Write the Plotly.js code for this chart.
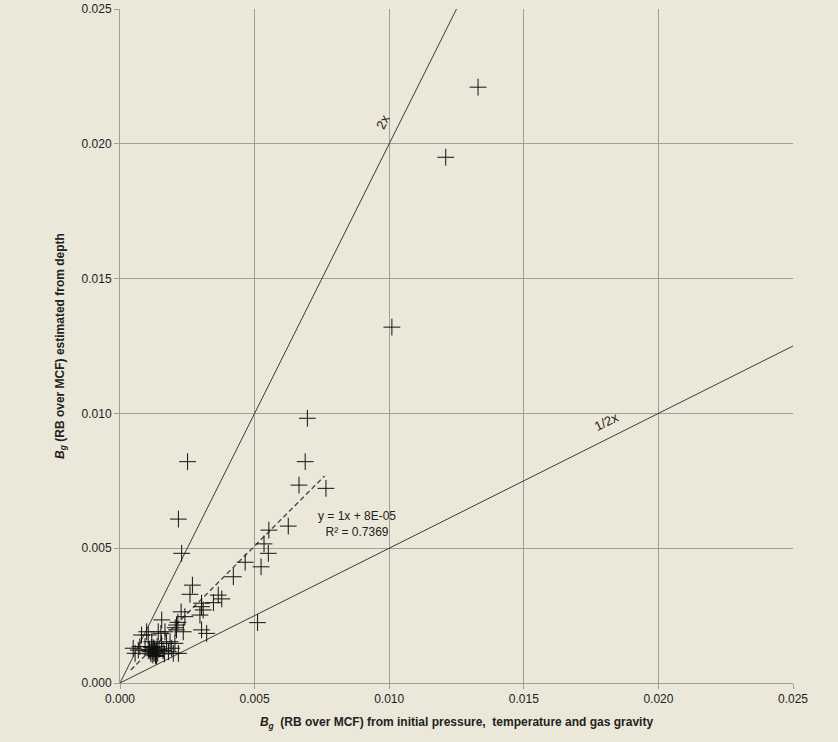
<!DOCTYPE html>
<html>
<head>
<meta charset="utf-8">
<script src="https://cdn.plot.ly/plotly-3.0.1.min.js"></script>
<style>
  html, body { margin: 0; padding: 0; background: #ebe7d9; }
  #chart { width: 838px; height: 742px; }
</style>
</head>
<body>
<div id="chart"></div>
<script>
// Bg from initial pressure, temperature and gas gravity (RB/MCF)
const bgPvt = [
  0.0133, 0.0121, 0.0101, 0.00696, 0.00688, 0.00665, 0.00765, 0.00625, 0.00553, 0.00535,
  0.00551, 0.00524, 0.00465, 0.00421, 0.00365, 0.00378, 0.00347, 0.00303, 0.00303, 0.00322,
  0.00511, 0.00251, 0.00217, 0.00229, 0.00269, 0.00260, 0.00303, 0.00297, 0.00227, 0.00241,
  0.00155, 0.00210, 0.00142, 0.00235, 0.00099, 0.00167, 0.00049, 0.00068, 0.00192, 0.00217,
  0.00080, 0.00105, 0.00074, 0.00210, 0.00173, 0.00204, 0.00180, 0.00198, 0.00152, 0.00309,
  0.00093, 0.00056, 0.00136, 0.00186, 0.00118, 0.00154, 0.00110, 0.00120, 0.00125, 0.00130,
  0.00115, 0.00135, 0.00122, 0.00128, 0.00140, 0.00112, 0.00132, 0.00118, 0.00145, 0.00105,
  0.00126, 0.00138, 0.00160, 0.00165, 0.00205, 0.00215
];
// Bg estimated from depth (RB/MCF)
const bgDepth = [
  0.0221, 0.0195, 0.0132, 0.00982, 0.00821, 0.00734, 0.00722, 0.00582, 0.00567, 0.00516,
  0.00481, 0.00431, 0.00448, 0.00394, 0.00326, 0.00312, 0.00298, 0.00283, 0.00197, 0.00184,
  0.00224, 0.00821, 0.00608, 0.00481, 0.00363, 0.00329, 0.00296, 0.00252, 0.00264, 0.00246,
  0.00234, 0.00197, 0.00190, 0.00190, 0.00190, 0.00190, 0.00129, 0.00122, 0.00129, 0.00110,
  0.00178, 0.00178, 0.00135, 0.00215, 0.00147, 0.00147, 0.00116, 0.00110, 0.00184, 0.00271,
  0.00135, 0.00110, 0.00098, 0.00153, 0.00153, 0.00147, 0.00125, 0.00118, 0.00130, 0.00112,
  0.00108, 0.00120, 0.00104, 0.00126, 0.00110, 0.00116, 0.00102, 0.00132, 0.00125, 0.00120,
  0.00110, 0.00135, 0.00120, 0.00108, 0.00205, 0.00225
];

// Reference ratio lines through the origin
const lineTwoX = [0, 0.0125];
const lineTwoY = [0, 0.025];
const lineHalfX = [0, 0.025];
const lineHalfY = [0, 0.0125];

// Linear trend: y = 1x + 8E-05
const trendSlope = 1;
const trendIntercept = 0.00008;
const trendRangeX = [0.0004, 0.0076];
const trendR2 = 0.7369;

const axisTicks = [0, 0.005, 0.010, 0.015, 0.020, 0.025];
const axisTickText = ['0.000', '0.005', '0.010', '0.015', '0.020', '0.025'];

const BG = '#ebe7d9';
const GRID = '#a09e95';
const FONT = 'Liberation Sans, Arial, sans-serif';

const traces = [
  {
    x: lineTwoX, y: lineTwoY, mode: 'lines', type: 'scatter',
    line: { color: '#3a3a3a', width: 1 }, hoverinfo: 'skip', showlegend: false
  },
  {
    x: lineHalfX, y: lineHalfY, mode: 'lines', type: 'scatter',
    line: { color: '#3a3a3a', width: 1 }, hoverinfo: 'skip', showlegend: false
  },
  {
    x: trendRangeX,
    y: trendRangeX.map(v => trendSlope * v + trendIntercept),
    mode: 'lines', type: 'scatter',
    line: { color: '#4a4a4a', width: 1.4, dash: '5px,3px' },
    hoverinfo: 'skip', showlegend: false
  },
  {
    x: bgPvt, y: bgDepth, mode: 'markers', type: 'scatter',
    marker: { symbol: 'cross-thin', size: 12, color: '#111', line: { color: '#111', width: 1 } },
    showlegend: false
  }
];

const layout = {
  width: 838, height: 742,
  paper_bgcolor: BG, plot_bgcolor: BG,
  margin: { l: 120, r: 45, t: 9, b: 59 },
  font: { family: FONT, size: 12, color: '#222' },
  showlegend: false,
  xaxis: {
    range: [0, 0.025], autorange: false,
    tickvals: axisTicks, ticktext: axisTickText,
    showgrid: true, gridcolor: GRID, gridwidth: 1,
    showline: true, linecolor: GRID, linewidth: 1,
    zeroline: false,
    ticks: 'outside', ticklen: 5, tickcolor: GRID,
    tickfont: { family: FONT, size: 12, color: '#222' },
    title: {
      text: '<b><i>B</i></b><sub><i><b>g</b></i></sub><b>  (RB over MCF) from initial pressure,  temperature and gas gravity</b>',
      font: { family: FONT, size: 12, color: '#222' },
      standoff: 12
    }
  },
  yaxis: {
    range: [0, 0.025], autorange: false,
    tickvals: axisTicks, ticktext: axisTickText,
    showgrid: true, gridcolor: GRID, gridwidth: 1,
    showline: true, linecolor: GRID, linewidth: 1,
    zeroline: false,
    ticks: 'outside', ticklen: 5, tickcolor: GRID,
    tickfont: { family: FONT, size: 12, color: '#222' },
    title: {
      text: '<b><i>B</i></b><sub><i><b>g</b></i></sub><b> (RB over MCF) estimated from depth</b>',
      font: { family: FONT, size: 12, color: '#222' },
      standoff: 14
    }
  },
  annotations: [
    {
      x: 0.00978, y: 0.02082, xref: 'x', yref: 'y',
      text: '2x', showarrow: false, textangle: -63.4,
      font: { family: FONT, size: 13, color: '#222' }
    },
    {
      x: 0.01808, y: 0.00969, xref: 'x', yref: 'y',
      text: '1/2x', showarrow: false, textangle: -26.6,
      font: { family: FONT, size: 13, color: '#222' }
    },
    {
      x: 0.0088, y: 0.0059, xref: 'x', yref: 'y',
      text: 'y = ' + trendSlope + 'x + 8E-05<br>R² = ' + trendR2.toFixed(4),
      showarrow: false, align: 'center',
      font: { family: FONT, size: 12, color: '#222' }
    }
  ]
};

Plotly.newPlot('chart', traces, layout, { displayModeBar: false, staticPlot: true });
</script>
</body>
</html>
